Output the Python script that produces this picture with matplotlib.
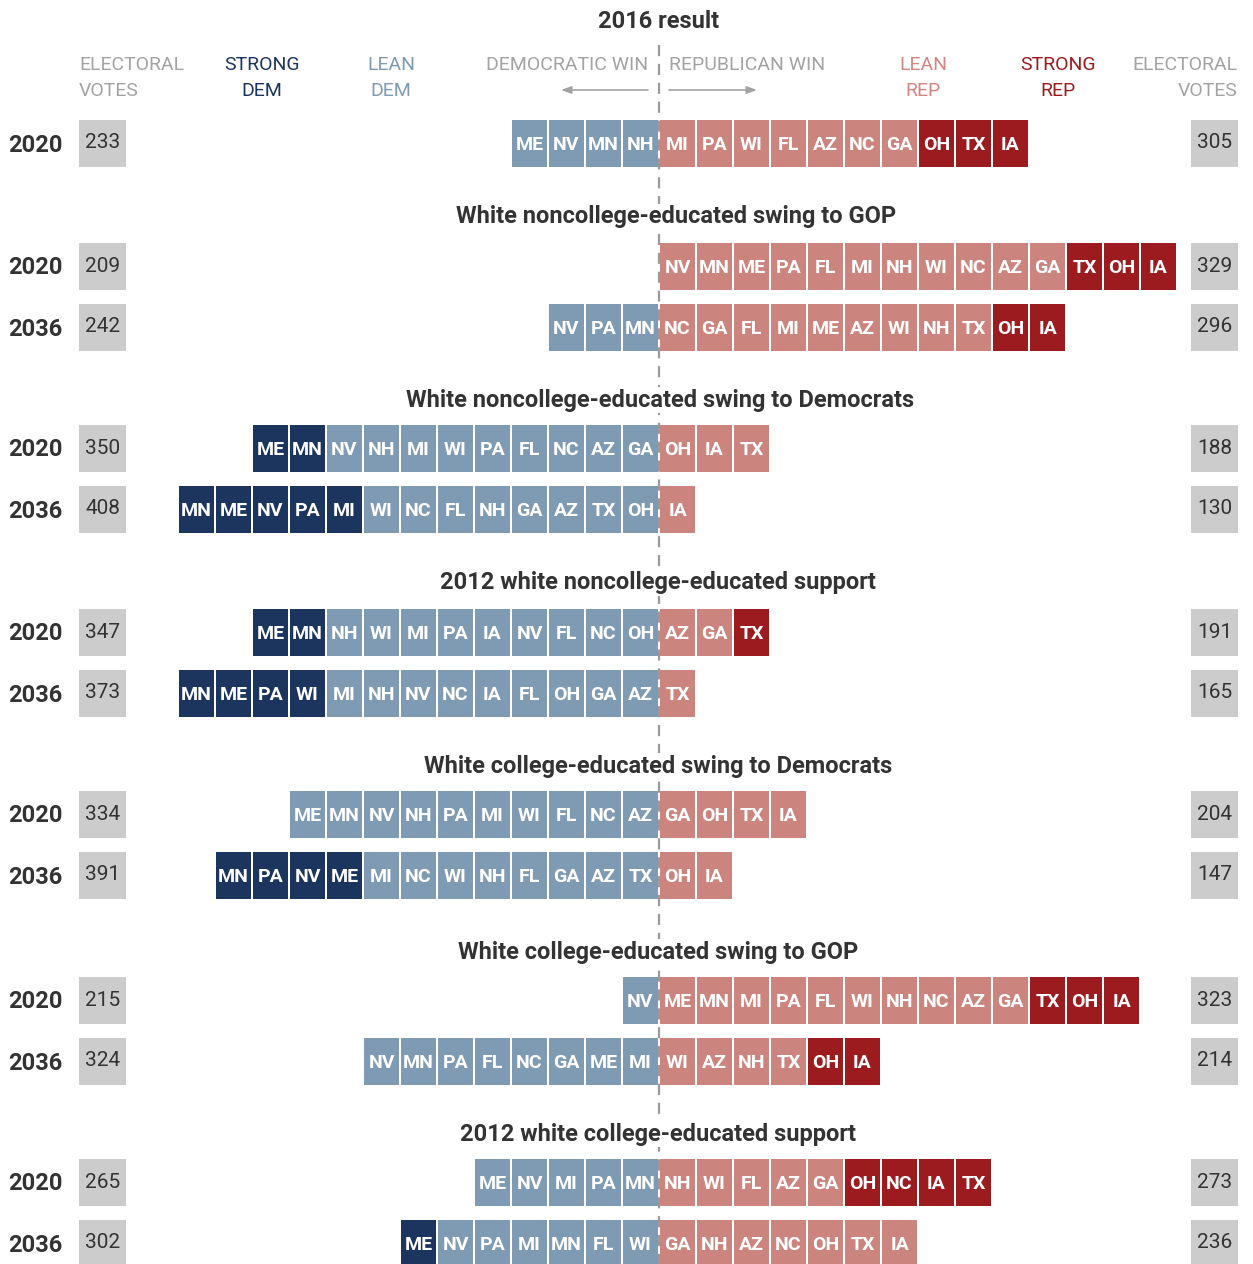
import matplotlib
matplotlib.use('Agg')
import matplotlib.pyplot as plt
from matplotlib.patches import Rectangle

# ---- data ----
section_titles = [
    '2016 result',
    'White noncollege-educated swing to GOP',
    'White noncollege-educated swing to Democrats',
    '2012 white noncollege-educated support',
    'White college-educated swing to Democrats',
    'White college-educated swing to GOP',
    '2012 white college-educated support',
]
row_years = ['2020', '2020', '2036', '2020', '2036', '2020', '2036',
             '2020', '2036', '2020', '2036', '2020', '2036']
dem_ev = [233, 209, 242, 350, 408, 347, 373, 334, 391, 215, 324, 265, 302]
rep_ev = [305, 329, 296, 188, 130, 191, 165, 204, 147, 323, 214, 273, 236]

# states listed left to right as drawn
dem_states = [
    ['ME', 'NV', 'MN', 'NH'],
    [],
    ['NV', 'PA', 'MN'],
    ['ME', 'MN', 'NV', 'NH', 'MI', 'WI', 'PA', 'FL', 'NC', 'AZ', 'GA'],
    ['MN', 'ME', 'NV', 'PA', 'MI', 'WI', 'NC', 'FL', 'NH', 'GA', 'AZ', 'TX', 'OH'],
    ['ME', 'MN', 'NH', 'WI', 'MI', 'PA', 'IA', 'NV', 'FL', 'NC', 'OH'],
    ['MN', 'ME', 'PA', 'WI', 'MI', 'NH', 'NV', 'NC', 'IA', 'FL', 'OH', 'GA', 'AZ'],
    ['ME', 'MN', 'NV', 'NH', 'PA', 'MI', 'WI', 'FL', 'NC', 'AZ'],
    ['MN', 'PA', 'NV', 'ME', 'MI', 'NC', 'WI', 'NH', 'FL', 'GA', 'AZ', 'TX'],
    ['NV'],
    ['NV', 'MN', 'PA', 'FL', 'NC', 'GA', 'ME', 'MI'],
    ['ME', 'NV', 'MI', 'PA', 'MN'],
    ['ME', 'NV', 'PA', 'MI', 'MN', 'FL', 'WI'],
]
rep_states = [
    ['MI', 'PA', 'WI', 'FL', 'AZ', 'NC', 'GA', 'OH', 'TX', 'IA'],
    ['NV', 'MN', 'ME', 'PA', 'FL', 'MI', 'NH', 'WI', 'NC', 'AZ', 'GA', 'TX', 'OH', 'IA'],
    ['NC', 'GA', 'FL', 'MI', 'ME', 'AZ', 'WI', 'NH', 'TX', 'OH', 'IA'],
    ['OH', 'IA', 'TX'],
    ['IA'],
    ['AZ', 'GA', 'TX'],
    ['TX'],
    ['GA', 'OH', 'TX', 'IA'],
    ['OH', 'IA'],
    ['ME', 'MN', 'MI', 'PA', 'FL', 'WI', 'NH', 'NC', 'AZ', 'GA', 'TX', 'OH', 'IA'],
    ['WI', 'AZ', 'NH', 'TX', 'OH', 'IA'],
    ['NH', 'WI', 'FL', 'AZ', 'GA', 'OH', 'NC', 'IA', 'TX'],
    ['GA', 'NH', 'AZ', 'NC', 'OH', 'TX', 'IA'],
]
# number of "strong" tiles at the outer end of each side
dem_strong = [0, 0, 0, 2, 5, 2, 4, 0, 4, 0, 0, 0, 1]
rep_strong = [3, 3, 2, 0, 0, 1, 0, 0, 0, 3, 2, 4, 0]

# ---- style ----
C_SD = '#1c355e'
C_LD = '#7f9ab3'
C_LR = '#cc847e'
C_SR = '#9b1b1f'
C_HEAD = '#a3a3a3'
C_TEXT = '#333333'
FONT = ['Liberation Sans Narrow', 'Roboto', 'DejaVu Sans']
plt.rcParams['font.family'] = FONT

W, H = 1253, 1264
fig = plt.figure(figsize=(W / 100, H / 100), dpi=100)
ax = fig.add_axes([0, 0, 1, 1])
ax.set_xlim(0, W)
ax.set_ylim(H, 0)
ax.axis('off')

CX = 659          # dividing line
PITCH = 37
TW = 35
TH = 47

# layout (pixels)
row_y = [143, 266, 327, 448, 509, 632, 693, 814, 875, 1000, 1061, 1182, 1243]
title_y = [20, 215, 398, 581, 764, 950, 1132]
title_x = [659, 676, 660, 658, 658, 658, 658]

# dashed centre line
ax.plot([CX, CX], [45, H], color='#9a9a9a', lw=1.6, dashes=(5, 3.5), zorder=1)

# section titles
for t, x, y in zip(section_titles, title_x, title_y):
    ax.text(x, y + 2, t, ha='center', va='center', fontsize=17, fontweight='bold',
            color=C_TEXT, zorder=3,
            bbox=dict(facecolor='white', edgecolor='none', pad=1))

# header
hy1, hy2 = 65, 91
hs = 14
ax.text(79, hy1, 'ELECTORAL', ha='left', va='center', fontsize=hs, color=C_HEAD)
ax.text(79, hy2, 'VOTES', ha='left', va='center', fontsize=hs, color=C_HEAD)
ax.text(1238, hy1, 'ELECTORAL', ha='right', va='center', fontsize=hs, color=C_HEAD)
ax.text(1238, hy2, 'VOTES', ha='right', va='center', fontsize=hs, color=C_HEAD)
for x, l1, l2, c in [(262, 'STRONG', 'DEM', C_SD), (391, 'LEAN', 'DEM', C_LD),
                     (923, 'LEAN', 'REP', '#d4857f'), (1058, 'STRONG', 'REP', C_SR)]:
    ax.text(x, hy1, l1, ha='center', va='center', fontsize=hs, color=c)
    ax.text(x, hy2, l2, ha='center', va='center', fontsize=hs, color=c)
ax.text(648, hy1, 'DEMOCRATIC WIN', ha='right', va='center', fontsize=hs, color=C_HEAD)
ax.text(669, hy1, 'REPUBLICAN WIN', ha='left', va='center', fontsize=hs, color=C_HEAD)
arrow = dict(arrowstyle='-|>,head_length=0.6,head_width=0.22', color=C_HEAD, lw=1.2,
             shrinkA=0, shrinkB=0)
ax.annotate('', xy=(561, hy2 - 1), xytext=(648, hy2 - 1), arrowprops=arrow)
ax.annotate('', xy=(757, hy2 - 1), xytext=(669, hy2 - 1), arrowprops=arrow)


def tile(x, y, label, color):
    ax.add_patch(Rectangle((x, y - TH / 2), TW, TH, facecolor=color,
                           edgecolor='none', zorder=2))
    ax.text(x + TW / 2, y + 2, label, ha='center', va='center', color='white',
            fontsize=14, fontweight='bold', zorder=4)


for i, y in enumerate(row_y):
    # year + electoral vote boxes
    ax.text(8, y + 2, row_years[i], ha='left', va='center', fontsize=17,
            fontweight='bold', color=C_TEXT)
    for bx, val in [(79, dem_ev[i]), (1191, rep_ev[i])]:
        ax.add_patch(Rectangle((bx, y - TH / 2), 47, TH, facecolor='#cccccc',
                               edgecolor='none'))
        ax.text(bx + 23.5, y, str(val), ha='center', va='center',
                fontsize=15, color=C_TEXT)

    n = len(dem_states[i])
    for j, s in enumerate(dem_states[i]):
        x = CX - PITCH * (n - j) + 1
        tile(x, y, s, C_SD if j < dem_strong[i] else C_LD)

    m = len(rep_states[i])
    for j, s in enumerate(rep_states[i]):
        x = CX + PITCH * j + 1
        tile(x, y, s, C_SR if j >= m - rep_strong[i] else C_LR)

fig.savefig('out.png', dpi=100)
